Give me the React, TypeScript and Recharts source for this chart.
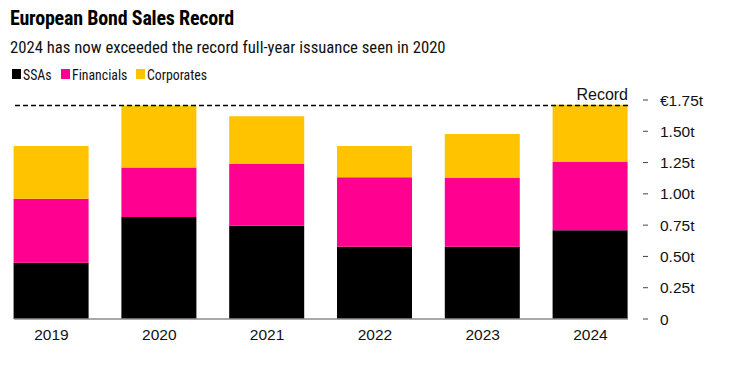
import React from "react";
import { BarChart, Bar, XAxis, YAxis, ReferenceLine } from "recharts";

const YEARS = ["2019", "2020", "2021", "2022", "2023", "2024"];
const SSAS = [0.45, 0.815, 0.745, 0.577, 0.577, 0.71];
const FINANCIALS = [0.51, 0.395, 0.493, 0.555, 0.549, 0.545];
const CORPORATES = [0.422, 0.497, 0.383, 0.25, 0.352, 0.457];
const Y_TICKS = [0, 0.25, 0.5, 0.75, 1, 1.25, 1.5, 1.75];

const COLORS = { ssas: "#000000", financials: "#ff0090", corporates: "#ffc300" };

const NARROW = "'Liberation Sans Narrow', 'Arial Narrow', 'Roboto Condensed', sans-serif";
const REGULAR = "'Liberation Sans', Arial, Helvetica, sans-serif";

const W = 740;
const H = 372;
const PLOT_LEFT = 14;
const PLOT_RIGHT = 628;
const PLOT_TOP = 100;
const PLOT_BOTTOM = 319;
const Y_AXIS_W = 100;
const X_AXIS_H = 30;

const data = YEARS.map((year, i) => ({
  year,
  ssas: SSAS[i],
  financials: FINANCIALS[i],
  corporates: CORPORATES[i],
}));

// record = full-year total for 2020
const RECORD = SSAS[1] + FINANCIALS[1] + CORPORATES[1];

const fmtY = (v: number) => {
  if (v === 0) return "0";
  if (v === 1.75) return "€1.75t";
  return v.toFixed(2) + "t";
};

const YTick = (props: any) => {
  const { y, payload } = props;
  return (
    <g>
      <line x1={PLOT_RIGHT + 15} x2={PLOT_RIGHT + 20} y1={y} y2={y} stroke="#444" strokeWidth={1} />
      <text x={PLOT_RIGHT + 32} y={y + 5.5} fontSize={15.5} fontFamily={REGULAR} fill="#111">
        {fmtY(payload.value)}
      </text>
    </g>
  );
};

const XTick = (props: any) => {
  const { x, payload } = props;
  return (
    <text x={x} y={PLOT_BOTTOM + 21} textAnchor="middle" fontSize={15.5} fontFamily={REGULAR} fill="#111">
      {payload.value}
    </text>
  );
};

const RecordLabel = (props: any) => {
  const { viewBox } = props;
  return (
    <text
      x={viewBox.x + viewBox.width}
      y={viewBox.y - 5}
      textAnchor="end"
      fontSize={16}
      fontFamily={REGULAR}
      fill="#111"
    >
      Record
    </text>
  );
};

const LEGEND = [
  { label: "SSAs", color: COLORS.ssas, x: 12 },
  { label: "Financials", color: COLORS.financials, x: 61 },
  { label: "Corporates", color: COLORS.corporates, x: 136 },
];

export default function App() {
  return (
    <div style={{ position: "absolute", left: 0, top: 0, width: W, height: H, background: "#fff" }}>
      <svg width={W} height={96} style={{ position: "absolute", left: 0, top: 0 }}>
        <text x={10} y={25} fontSize={20} fontWeight="bold" fontFamily={NARROW} fill="#000" letterSpacing={-0.2}>
          European Bond Sales Record
        </text>
        <text x={10} y={53} fontSize={16.7} fontFamily={NARROW} fill="#111">
          2024 has now exceeded the record full-year issuance seen in 2020
        </text>
        {LEGEND.map((l) => (
          <g key={l.label}>
            <rect x={l.x} y={69} width={9} height={10} fill={l.color} />
            <text x={l.x + 11} y={79.5} fontSize={13.8} fontFamily={NARROW} fill="#111">
              {l.label}
            </text>
          </g>
        ))}
      </svg>
      <div style={{ position: "absolute", left: 0, top: 0 }}>
        <BarChart
          width={W}
          height={H}
          data={data}
          margin={{
            top: PLOT_TOP,
            left: PLOT_LEFT,
            right: W - PLOT_RIGHT - Y_AXIS_W,
            bottom: H - PLOT_BOTTOM - X_AXIS_H,
          }}
        >
          <XAxis
            dataKey="year"
            height={X_AXIS_H}
            padding={{ left: -16.4, right: -16.4 }}
            tickLine={false}
            axisLine={{ stroke: "#8c8c8c", strokeWidth: 1.5 }}
            tick={<XTick />}
            interval={0}
          />
          <YAxis
            orientation="right"
            width={Y_AXIS_W}
            domain={[0, 1.75]}
            ticks={Y_TICKS}
            axisLine={false}
            tickLine={false}
            tick={<YTick />}
            interval={0}
          />
          <Bar dataKey="ssas" stackId="a" fill={COLORS.ssas} barSize={75} isAnimationActive={false} />
          <Bar dataKey="financials" stackId="a" fill={COLORS.financials} barSize={75} isAnimationActive={false} />
          <Bar dataKey="corporates" stackId="a" fill={COLORS.corporates} barSize={75} isAnimationActive={false} />
          <ReferenceLine
            y={RECORD}
            stroke="#000"
            strokeWidth={1.5}
            strokeDasharray="5 3"
            label={<RecordLabel />}
          />
        </BarChart>
      </div>
    </div>
  );
}
